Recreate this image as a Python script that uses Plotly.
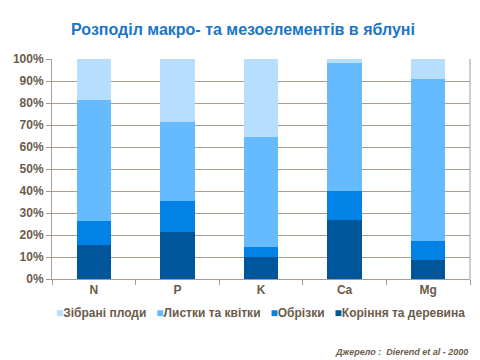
import plotly.graph_objects as go

categories = ["N", "P", "K", "Ca", "Mg"]
roots = [15.5, 21.5, 10.0, 27.0, 8.5]
prunings = [11.0, 14.0, 4.5, 13.0, 9.0]
leaves = [55.0, 36.0, 50.0, 58.0, 73.5]
fruits = [18.5, 28.5, 35.5, 2.0, 9.0]

series = [
    ("Коріння та деревина", roots, "#00569A"),
    ("Обрізки", prunings, "#0082E6"),
    ("Листки та квітки", leaves, "#66BBFF"),
    ("Зібрані плоди", fruits, "#B8DEFE"),
]

txt = "#6B5B4B"
grid = "#A89C90"
OFF = 8  # page body margin
W, H = 480 - OFF, 360 - OFF
fig = go.Figure()
for name, vals, col in series:
    fig.add_trace(go.Bar(x=categories, y=vals, name=name,
                         marker=dict(color=col, line=dict(width=0)), width=0.41))

fig.update_layout(
    width=W, height=H,
    barmode="stack",
    showlegend=False,
    paper_bgcolor="white", plot_bgcolor="white",
    margin=dict(l=52 - OFF, r=10 - OFF + OFF, t=59 - OFF, b=H - (279 - OFF), autoexpand=False),
    font=dict(family="Liberation Sans, Arial", size=12, color=txt),
    title=dict(text="<b>Розподіл макро- та мезоелементів в яблуні</b>", x=(243 - OFF) / W, xanchor="center",
               y=1 - (29 - OFF) / H, yanchor="middle", font=dict(size=16, color="#1B75C9")),
)
fig.update_yaxes(range=[0, 100], tickvals=list(range(0, 101, 10)),
                 ticktext=["<b>%d%%</b>" % v for v in range(0, 101, 10)],
                 showgrid=True, gridcolor=grid, gridwidth=1,
                 showline=True, linecolor=grid, linewidth=1,
                 ticks="outside", ticklen=5, tickcolor=grid,
                 tickfont=dict(size=12, color=txt), zeroline=False)
fig.update_xaxes(tickvals=categories, ticktext=["<b>%s</b>" % c for c in categories],
                 showline=True, linecolor=grid, linewidth=1,
                 ticks="outside", ticklen=5, tickcolor=grid, tickson="boundaries",
                 tickfont=dict(size=12, color=txt), showgrid=False)
fig.add_shape(type="line", xref="paper", yref="paper", x0=1, x1=1, y0=0, y1=1,
              line=dict(color=grid, width=1))

# legend (reversed order, as in the reference)
legend_text = "&nbsp;&nbsp;&nbsp;".join(
    '<span style="color:%s">■</span><b>%s</b>' % (col, name) for name, vals, col in reversed(series)
)
fig.add_annotation(text=legend_text, xref="paper", yref="paper", x=(260 - 52) / 418, xanchor="center",
                   y=-(313 - 279) / 220, yanchor="middle", showarrow=False,
                   font=dict(size=12, color=txt))
fig.add_annotation(text="<i><b>Джерело :  Dierend et al - 2000</b></i>", xref="paper", yref="paper",
                   x=1, xanchor="right", y=-(352 - 279) / 220, yanchor="middle", showarrow=False,
                   font=dict(size=9, color=txt))

fig.write_html("out.html")
